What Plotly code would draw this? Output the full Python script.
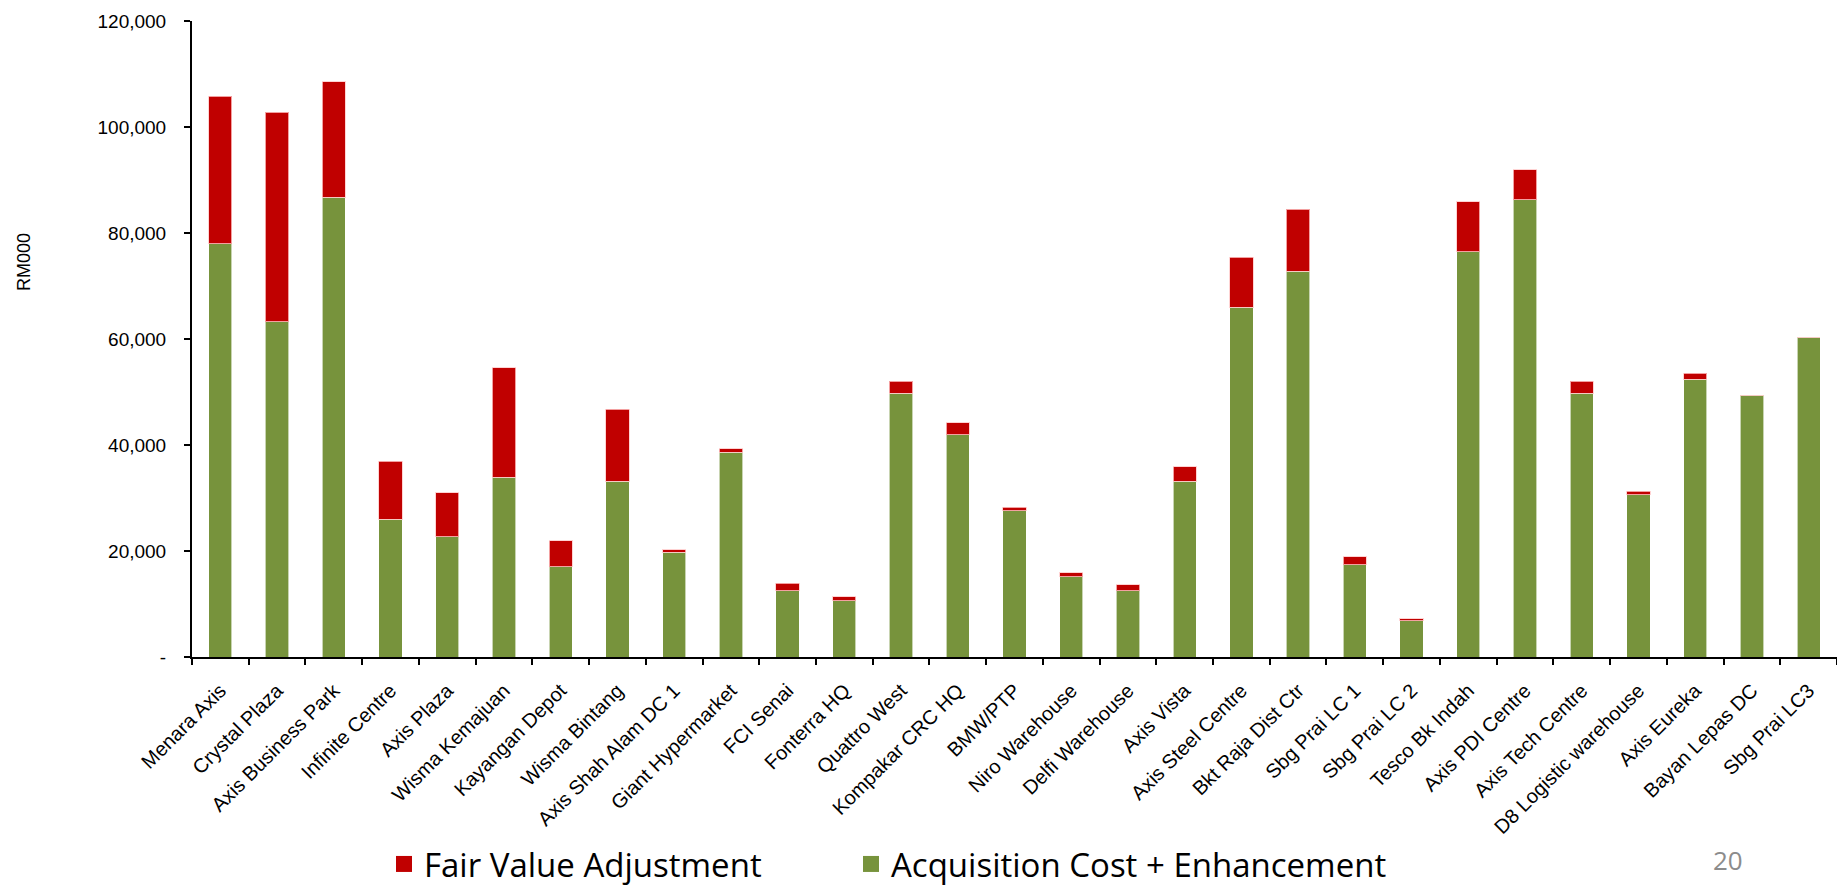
import plotly.graph_objects as go

categories = [
    "Menara Axis", "Crystal Plaza", "Axis Business Park", "Infinite Centre", "Axis Plaza",
    "Wisma Kemajuan", "Kayangan Depot", "Wisma Bintang", "Axis Shah Alam DC 1",
    "Giant Hypermarket", "FCI Senai", "Fonterra HQ", "Quattro West", "Kompakar CRC HQ",
    "BMW/PTP", "Niro Warehouse", "Delfi Warehouse", "Axis Vista", "Axis Steel Centre",
    "Bkt Raja Dist Ctr", "Sbg Prai LC 1", "Sbg Prai LC 2", "Tesco Bk Indah",
    "Axis PDI Centre", "Axis Tech Centre", "D8 Logistic warehouse", "Axis Eureka",
    "Bayan Lepas DC", "Sbg Prai LC3",
]

acquisition_cost = [
    78000, 63300, 86700, 26000, 22700, 33900, 17000, 33200, 19800, 38600,
    12500, 10600, 49800, 41900, 27600, 15100, 12500, 33200, 66000, 72800,
    17400, 6800, 76500, 86300, 49800, 30600, 52400, 49400, 60300,
]

fair_value_adj = [
    27800, 39500, 21800, 10900, 8300, 20700, 4900, 13500, 400, 700,
    1400, 800, 2200, 2300, 700, 800, 1100, 2700, 9400, 11700,
    1500, 400, 9400, 5600, 2200, 700, 1100, 0, 0,
]

y_tickvals = [0, 20000, 40000, 60000, 80000, 100000, 120000]
y_ticktext = ["-", "20,000", "40,000", "60,000", "80,000", "100,000", "120,000"]

GREEN = "#77933C"
RED = "#C00000"

# plot-area geometry (pixels)
L, R, T, B = 192, 0, 21, 232
W, H = 1837, 889
PW, PH = W - L - R, H - T - B


def px_x(x):
    return (x - L) / PW


def px_y(y):
    return (H - B - y) / PH


fig = go.Figure()
fig.add_trace(go.Bar(
    x=categories, y=acquisition_cost, name="Acquisition Cost + Enhancement",
    marker=dict(color=GREEN, line=dict(color="rgba(255,255,255,0.6)", width=1)),
    showlegend=False,
))
fig.add_trace(go.Bar(
    x=categories, y=fair_value_adj, name="Fair Value Adjustment",
    marker=dict(color=RED, line=dict(color="rgba(255,200,200,0.8)", width=1)),
    showlegend=False,
))
# legend entries
fig.add_trace(go.Scatter(
    x=[None], y=[None], mode="markers", name="Fair Value Adjustment",
    marker=dict(symbol="square", size=23, color=RED), legend="legend",
))
fig.add_trace(go.Scatter(
    x=[None], y=[None], mode="markers", name="Acquisition Cost + Enhancement",
    marker=dict(symbol="square", size=23, color=GREEN), legend="legend2",
))

legend_font = dict(family="Open Sans, sans-serif", size=33, color="black")

fig.update_layout(
    barmode="stack",
    bargap=0.59,
    width=W, height=H,
    margin=dict(l=L, r=R, t=T, b=B, autoexpand=False),
    paper_bgcolor="white", plot_bgcolor="white",
    font=dict(family="Liberation Sans, Arial, sans-serif", color="black"),
    legend=dict(
        orientation="h", x=px_x(384), y=px_y(864), xanchor="left", yanchor="middle",
        font=legend_font, itemwidth=30, bgcolor="rgba(0,0,0,0)",
    ),
    legend2=dict(
        orientation="h", x=px_x(851), y=px_y(864), xanchor="left", yanchor="middle",
        font=legend_font, itemwidth=30, bgcolor="rgba(0,0,0,0)",
    ),
    xaxis=dict(
        type="category", tickangle=-45, tickfont=dict(size=20),
        showline=True, linecolor="black", linewidth=2,
        ticks="outside", ticklen=6, tickwidth=1.5, tickcolor="black",
        tickson="boundaries", showgrid=False, zeroline=False,
        ticklabelstandoff=12,
        range=[-0.5, 28.5],
    ),
    yaxis=dict(
        range=[0, 120000], tickvals=y_tickvals, ticktext=y_ticktext,
        tickfont=dict(size=19),
        showline=True, linecolor="black", linewidth=2,
        ticks="outside", ticklen=6, tickwidth=1.5, tickcolor="black",
        ticklabelstandoff=14,
        showgrid=False, zeroline=False,
    ),
)
fig.add_annotation(
    text="RM000", xref="paper", yref="paper",
    x=px_x(24), y=px_y(262), textangle=-90,
    xanchor="center", yanchor="middle", showarrow=False,
    font=dict(family="Liberation Sans Narrow, Liberation Sans, Arial", size=18, color="black"),
)
fig.add_annotation(
    text="20", xref="paper", yref="paper",
    x=px_x(1728), y=px_y(860),
    xanchor="center", yanchor="middle", showarrow=False,
    font=dict(family="Open Sans, sans-serif", size=26, color="#8C8C8C"),
)

fig.write_html("out.html")
